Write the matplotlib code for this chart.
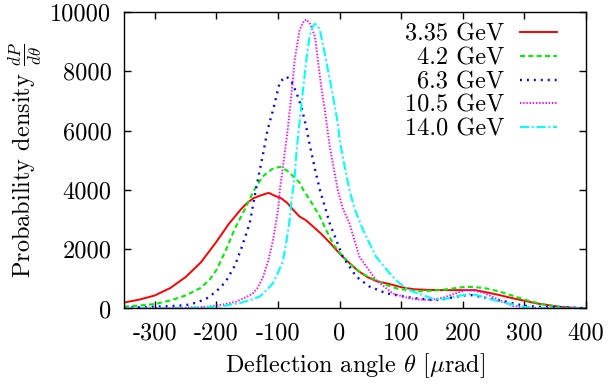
import matplotlib
matplotlib.use("Agg")
import matplotlib.pyplot as plt

plt.rcParams['font.family'] = 'cmr10'
plt.rcParams['mathtext.fontset'] = 'cm'
plt.rcParams['axes.unicode_minus'] = False
plt.rcParams['lines.scale_dashes'] = False

labels = ['3.35 GeV', '4.2 GeV', '6.3 GeV', '10.5 GeV', '14.0 GeV']
colors = ['#ff0000', '#00ee00', '#0000ff', '#ff00ff', '#00ffff']

x_335 = [-350, -325, -300, -275, -250, -225, -200, -180, -160, -150, -140, -130, -120, -115, -105, -95, -85, -75,
         -65, -55, -45, -30, -15, 0, 15, 30, 45, 60, 80, 100, 120, 140, 160, 180, 200, 220, 240, 260, 280, 300,
         320, 340, 360, 380, 400]
y_335 = [200, 300, 440, 690, 1060, 1560, 2250, 2850, 3350, 3560, 3720, 3800, 3870, 3900, 3800, 3720, 3560, 3320,
         3100, 2980, 2800, 2520, 2200, 1850, 1550, 1270, 1060, 920, 830, 720, 650, 630, 620, 620, 620, 620, 540,
         450, 350, 260, 170, 110, 50, 25, 10]

x_42 = [-350, -325, -300, -275, -250, -225, -210, -200, -185, -170, -155, -140, -125, -110, -97, -85, -75, -65,
        -59, -45, -32, -22, -10, 5, 20, 32, 45, 59, 75, 92, 110, 130, 150, 175, 200, 215, 235, 260, 285, 310, 335,
        360, 380, 400]
y_42 = [60, 100, 150, 270, 440, 700, 1000, 1300, 1950, 2700, 3300, 3950, 4450, 4700, 4780, 4650, 4450, 4250,
        4000, 3550, 3100, 2650, 2150, 1750, 1450, 1240, 1080, 960, 800, 680, 620, 580, 600, 650, 720, 730, 690,
        570, 400, 240, 120, 40, 15, 5]

x_63 = [-350, -300, -275, -250, -232, -215, -200, -185, -170, -160, -146, -135, -124, -117, -108, -97, -86, -78,
        -70, -62, -54, -49, -40, -32, -16, 5, 27, 49, 76, 100, 120, 140, 155, 170, 185, 200, 215, 240, 270, 300,
        330, 360, 390, 400]
y_63 = [20, 60, 80, 110, 200, 350, 580, 900, 1450, 2000, 2870, 4110, 5240, 6020, 6700, 7650, 7820, 7650, 7270,
        6800, 6100, 5570, 4700, 4000, 2870, 1750, 1075, 735, 510, 420, 350, 310, 290, 320, 380, 440, 450, 350,
        230, 90, 50, 40, 20, 10]

x_105 = [-350, -300, -250, -216, -190, -168, -150, -141, -133, -124, -116, -108, -100, -97, -92, -84, -78, -73,
         -65, -58, -54, -48, -40, -30, -24, -16, -3, 5, 16, 32, 59, 86, 110, 130, 150, 170, 190, 205, 220, 235,
         259, 281, 313, 350, 400]
y_105 = [0, 10, 30, 60, 130, 230, 400, 510, 700, 1075, 1600, 2310, 3320, 4000, 4780, 6080, 7270, 8380, 9390,
         9700, 9750, 9600, 9170, 7500, 6700, 5450, 4000, 3380, 2870, 1750, 960, 510, 360, 300, 290, 380, 520, 620,
         600, 520, 285, 85, 20, 5, 0]

x_140 = [-350, -300, -250, -216, -190, -162, -145, -130, -124, -115, -108, -103, -96, -92, -86, -81, -78, -73,
         -70, -66, -60, -54, -49, -44, -40, -36, -32, -22, -12, -3, 0, 8, 16, 24, 38, 59, 81, 97, 115, 135, 151,
         165, 178, 195, 211, 225, 238, 255, 270, 297, 329, 360, 400]
y_140 = [0, 5, 15, 40, 80, 185, 290, 400, 510, 700, 860, 1075, 1400, 1600, 2310, 3000, 3700, 4400, 5300, 6100,
         7270, 8380, 9170, 9500, 9600, 9550, 9390, 8380, 7300, 6250, 5700, 4800, 4000, 3380, 2650, 1750, 1190,
         850, 600, 450, 330, 320, 350, 430, 490, 440, 350, 260, 185, 60, 10, 0, 0]

xs = [x_335, x_42, x_63, x_105, x_140]
ys = [y_335, y_42, y_63, y_105, y_140]
styles = [dict(linestyle='-', linewidth=1.4),
          dict(dashes=(3.6, 2.4), linewidth=1.5),
          dict(dashes=(1.4, 3.6), linewidth=1.7),
          dict(dashes=(1.0, 1.3), linewidth=1.4),
          dict(dashes=(6.5, 2.0, 1.4, 2.0), linewidth=1.5)]

x_ticks = [-300, -200, -100, 0, 100, 200, 300, 400]
y_ticks = [0, 2000, 4000, 6000, 8000, 10000]

FS = 17.5
fig = plt.figure(figsize=(6.1, 3.9), dpi=100)
ax = fig.add_axes([0.2033, 0.209, 0.9607 - 0.2033, 0.9692 - 0.209])

for x, y, c, lab, st in zip(xs, ys, colors, labels, styles):
    ax.plot(x, y, color=c, label=lab, **st)

ax.set_xlim(-350, 400)
ax.set_ylim(0, 10000)
ax.set_xticks(x_ticks)
ax.set_yticks(y_ticks)
ax.tick_params(direction='in', top=True, right=True, length=5, width=1.0,
               labelsize=FS, pad=9)
ax.tick_params(axis='x', pad=10)
for s in ax.spines.values():
    s.set_linewidth(1.0)

ax.set_xlabel(r'Deflection angle $\theta$ [$\mu$rad]', fontsize=FS, labelpad=5)
ax.set_ylabel(r'Probability density $\frac{dP}{d\theta}$', fontsize=FS, labelpad=4)

leg = ax.legend(loc='upper right', bbox_to_anchor=(0.937, 0.96), frameon=False,
                markerfirst=False, fontsize=FS, handlelength=1.52, handletextpad=0.65,
                labelspacing=0.06, borderaxespad=0.0, borderpad=0.0)

fig.savefig('out.png', dpi=100)
